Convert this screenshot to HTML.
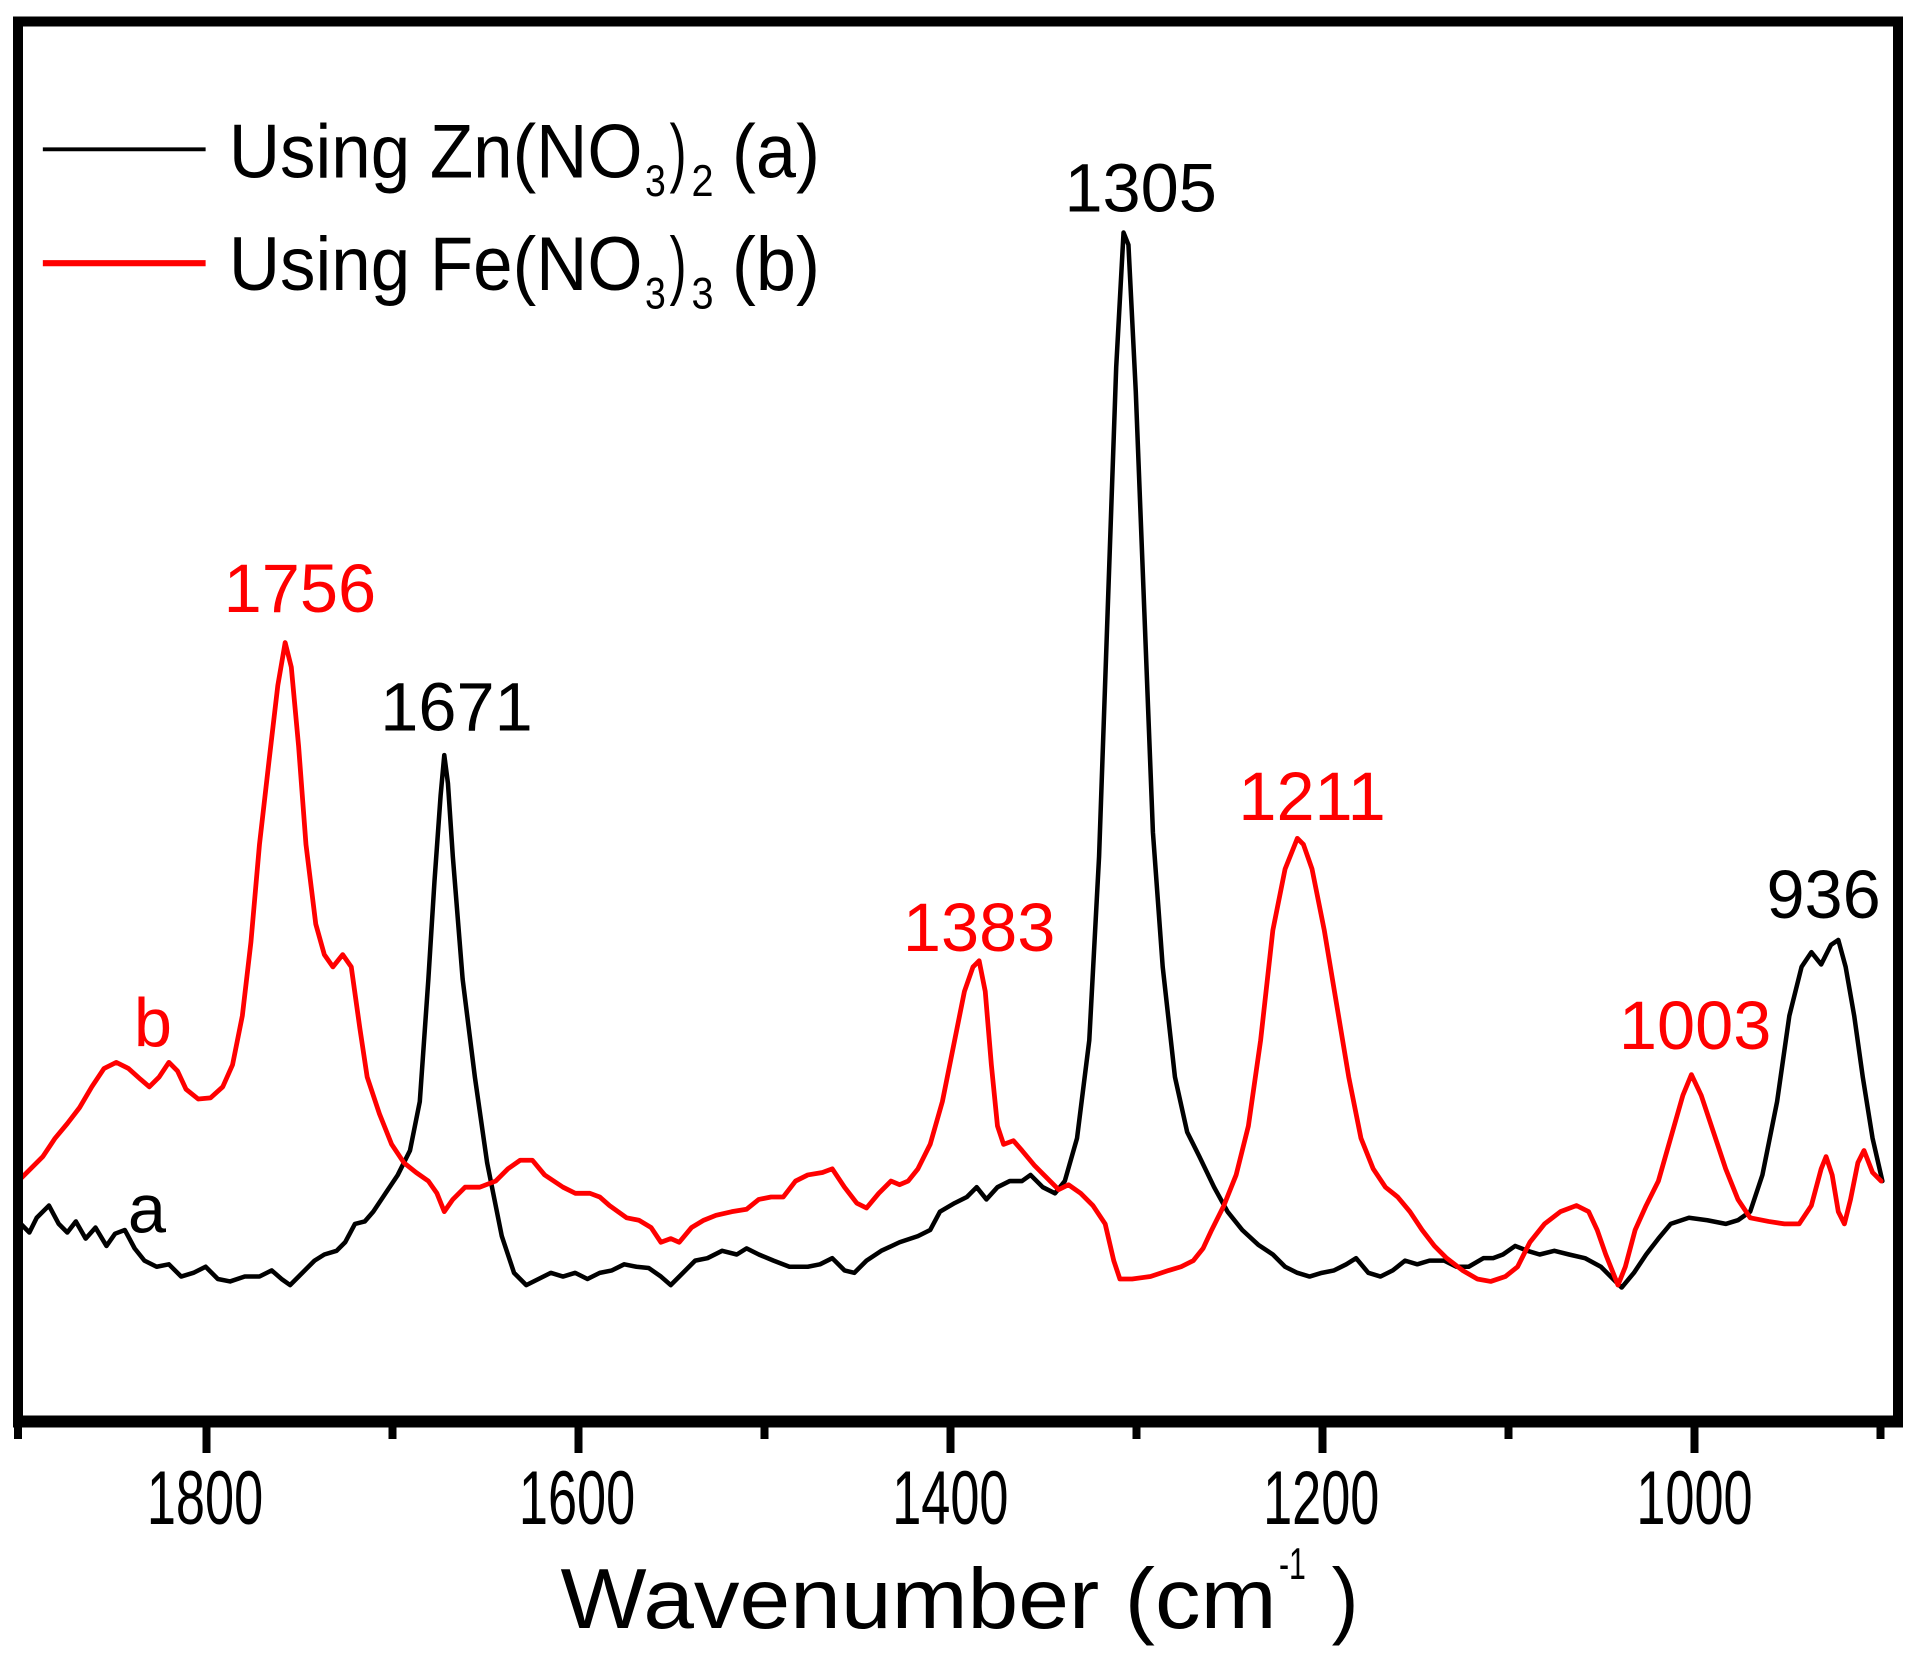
<!DOCTYPE html>
<html><head><meta charset="utf-8"><style>html,body{margin:0;padding:0;background:#fff}svg{display:block}</style></head>
<body>
<svg width="1919" height="1671" viewBox="0 0 1919 1671" xmlns="http://www.w3.org/2000/svg" font-family="'Liberation Sans', Arial, sans-serif">
<rect width="1919" height="1671" fill="#fff"/>
<g transform="scale(1.2239)" fill="none" stroke-linejoin="round" stroke-linecap="round">
<polyline stroke="#000" stroke-width="3.7" points="17,1000 24,1007 30,995 40,985 48,1000 55,1007 62,998 70,1012 78,1003 87,1018 94,1008 102,1005 110,1020 118,1030 128,1035 138,1033 148,1043 158,1040 168,1035 178,1045 188,1047 200,1043 212,1043 222,1038 230,1045 237,1050 247,1040 257,1030 265,1025 275,1022 282,1015 290,1000 298,998 305,990 315,975 325,960 335,940 343,900 350,800 355,720 360,650 363,617 366,640 370,700 378,800 388,880 398,950 410,1010 420,1040 430,1050 440,1045 450,1040 460,1043 470,1040 480,1045 490,1040 500,1038 510,1033 520,1035 530,1036 540,1043 548,1050 558,1040 568,1030 578,1028 590,1022 602,1025 610,1020 620,1025 632,1030 645,1035 660,1035 670,1033 680,1028 690,1038 698,1040 708,1030 720,1022 735,1015 750,1010 760,1005 768,990 780,983 790,978 798,970 806,980 815,970 825,965 835,965 842,960 852,970 862,975 870,965 880,930 890,850 898,700 905,500 912,300 918,190 922,200 928,320 935,500 942,680 950,790 960,880 970,925 980,945 992,970 1003,990 1015,1005 1028,1017 1040,1025 1050,1035 1060,1040 1070,1043 1080,1040 1090,1038 1100,1033 1108,1028 1118,1040 1128,1043 1138,1038 1148,1030 1158,1033 1168,1030 1180,1030 1190,1035 1200,1035 1212,1028 1220,1028 1228,1025 1238,1018 1248,1022 1258,1025 1270,1022 1282,1025 1295,1028 1308,1035 1318,1045 1325,1052 1335,1040 1345,1025 1355,1012 1365,1000 1380,995 1395,997 1410,1000 1420,997 1430,990 1440,960 1452,900 1462,830 1472,790 1480,778 1488,788 1496,772 1502,768 1508,790 1515,830 1522,880 1530,930 1538,965"/>
<polyline stroke="#ff0000" stroke-width="3.9" points="17,963 25,955 35,945 45,930 55,918 65,905 75,888 85,873 95,868 105,873 115,882 122,888 130,880 138,868 145,875 152,890 162,898 172,897 182,888 190,870 198,830 205,770 212,690 220,620 227,560 233,525 238,545 244,610 250,690 258,755 265,780 272,790 280,780 287,790 294,840 300,880 310,910 320,935 330,950 340,958 350,965 357,975 363,990 370,980 380,970 392,970 405,965 415,955 425,948 435,948 445,960 460,970 470,975 482,975 490,978 498,985 505,990 512,995 522,997 532,1003 540,1015 548,1012 555,1015 565,1003 575,997 585,993 598,990 610,988 620,980 630,978 640,978 650,965 660,960 672,958 680,955 690,970 700,983 708,987 718,975 728,965 735,968 742,965 750,955 760,935 770,900 780,850 788,810 795,790 800,785 805,810 810,870 815,920 820,935 828,932 835,940 845,952 855,962 865,972 873,968 883,975 893,985 903,1000 910,1030 915,1045 925,1045 940,1043 955,1038 965,1035 975,1030 983,1020 990,1005 1000,985 1010,960 1020,920 1030,850 1040,760 1050,710 1060,685 1065,690 1072,710 1082,760 1092,820 1102,880 1112,930 1122,955 1132,970 1142,978 1152,990 1162,1005 1172,1018 1182,1028 1195,1038 1207,1045 1218,1047 1230,1043 1240,1035 1250,1015 1262,1000 1275,990 1288,985 1298,990 1305,1005 1312,1025 1318,1040 1322,1050 1328,1035 1336,1005 1345,985 1355,965 1365,930 1375,895 1382,878 1390,895 1400,925 1410,955 1420,980 1430,995 1445,998 1458,1000 1470,1000 1480,985 1488,955 1492,945 1497,960 1502,990 1507,1000 1512,980 1518,950 1523,940 1530,958 1537,965"/>
<line x1="35" y1="122" x2="168" y2="122" stroke="#000" stroke-width="3.2" stroke-linecap="butt"/>
<line x1="35" y1="215" x2="168" y2="215" stroke="#ff0000" stroke-width="5" stroke-linecap="butt"/>
</g>
<g transform="scale(1.2239)" stroke="none">
<g font-size="56" text-anchor="middle">
<text x="245" y="500" fill="#ff0000">1756</text>
<text x="373" y="597" fill="#000">1671</text>
<text x="932" y="173" fill="#000">1305</text>
<text x="800" y="777" fill="#ff0000">1383</text>
<text x="1072" y="670" fill="#ff0000">1211</text>
<text x="1385" y="857" fill="#ff0000">1003</text>
<text x="1490" y="750" fill="#000">936</text>
<text x="125" y="855" fill="#ff0000">b</text>
<text x="120" y="1007" fill="#000">a</text>
</g>
<g font-size="62" fill="#000">
<text x="187" y="145" textLength="338" lengthAdjust="spacingAndGlyphs">Using Zn(NO</text>
<text x="527" y="160" font-size="36" textLength="17" lengthAdjust="spacingAndGlyphs">3</text>
<text x="547" y="145" textLength="14" lengthAdjust="spacingAndGlyphs">)</text>
<text x="565" y="160" font-size="36" textLength="18" lengthAdjust="spacingAndGlyphs">2</text>
<text x="598" y="145" textLength="72" lengthAdjust="spacingAndGlyphs">(a)</text>
<text x="187" y="237" textLength="338" lengthAdjust="spacingAndGlyphs">Using Fe(NO</text>
<text x="527" y="252" font-size="36" textLength="17" lengthAdjust="spacingAndGlyphs">3</text>
<text x="547" y="237" textLength="14" lengthAdjust="spacingAndGlyphs">)</text>
<text x="565" y="252" font-size="36" textLength="18" lengthAdjust="spacingAndGlyphs">3</text>
<text x="598" y="237" textLength="72" lengthAdjust="spacingAndGlyphs">(b)</text>
</g>
<g font-size="62" fill="#000">
<text x="120" y="1245" textLength="95" lengthAdjust="spacingAndGlyphs">1800</text>
<text x="424" y="1245" textLength="95" lengthAdjust="spacingAndGlyphs">1600</text>
<text x="729" y="1245" textLength="95" lengthAdjust="spacingAndGlyphs">1400</text>
<text x="1032" y="1245" textLength="95" lengthAdjust="spacingAndGlyphs">1200</text>
<text x="1337" y="1245" textLength="95" lengthAdjust="spacingAndGlyphs">1000</text>
</g>
<g font-size="70" fill="#000">
<text x="458" y="1330" textLength="585" lengthAdjust="spacingAndGlyphs">Wavenumber (cm</text>
<text x="1045" y="1290" font-size="36" textLength="22" lengthAdjust="spacingAndGlyphs">-1</text>
<text x="1088" y="1330" textLength="22" lengthAdjust="spacingAndGlyphs">)</text>
</g>
</g>
<g fill="none" stroke="#000">
<rect x="18" y="21.5" width="1880" height="1400" stroke-width="10"/>
<line x1="13" y1="1421.5" x2="1903" y2="1421.5" stroke-width="12"/>
<g stroke-width="8">
<line x1="206.5" y1="1421" x2="206.5" y2="1453"/>
<line x1="578.5" y1="1421" x2="578.5" y2="1453"/>
<line x1="950.5" y1="1421" x2="950.5" y2="1453"/>
<line x1="1322.5" y1="1421" x2="1322.5" y2="1453"/>
<line x1="1694.5" y1="1421" x2="1694.5" y2="1453"/>
<line x1="18" y1="1421" x2="18" y2="1439"/>
<line x1="392.5" y1="1421" x2="392.5" y2="1439"/>
<line x1="764.5" y1="1421" x2="764.5" y2="1439"/>
<line x1="1136.5" y1="1421" x2="1136.5" y2="1439"/>
<line x1="1508.5" y1="1421" x2="1508.5" y2="1439"/>
<line x1="1880.5" y1="1421" x2="1880.5" y2="1439"/>
</g>
</g>
</svg>
</body></html>
